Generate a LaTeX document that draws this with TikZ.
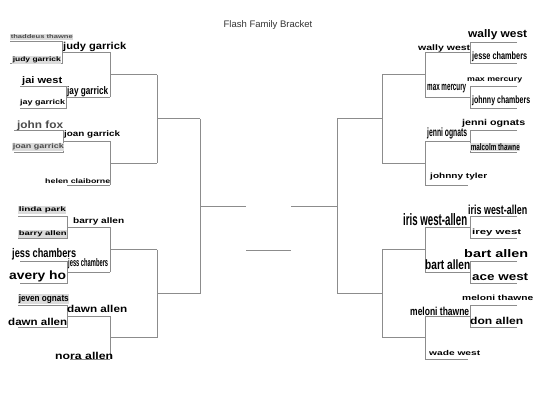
\documentclass[tikz,border=0pt]{standalone}
\usepackage{fontspec}
\setmainfont{Liberation Sans}
\usepackage{graphicx}
\newcommand{\fw}[3]{\resizebox{#1bp}{\height}{\fontsize{#2bp}{#2bp}\selectfont\bfseries #3}}
\newcommand{\bpair}[5]{\draw[br] (#1,#3) -- (#2,#3) -- (#2,#4) -- (#1,#4); \draw[br] (#2,{(#3+#4)/2}) -- (#5,{(#3+#4)/2});}
\newcommand{\bjoin}[4]{\draw[br] (#1,#2) -- (#1,#3); \draw[br] (#1,{(#2+#3)/2}) -- (#4,{(#2+#3)/2});}
\tikzset{
  br/.style={draw=black!45, line width=0.8bp},
  lab/.style={inner sep=0pt, anchor=west},
  hl/.style={fill=black!14, inner sep=0.6pt},
  gt/.style={text=black!70}
}
\begin{document}
\begin{tikzpicture}[x=1bp,y=-1bp]
\fill[white] (0,0) rectangle (540,414);
\useasboundingbox (0,0) rectangle (540,414);
\node[text=black!80] (title) at (268,25) {\fontsize{9.5bp}{10bp}\selectfont Flash Family Bracket};
% left bracket
\bpair{10}{62}{41}{63}{110}
\bpair{20}{66}{86}{108}{110}
\bjoin{110}{52}{97}{157}
\bpair{14}{63}{130}{152}{110}
\draw[br] (67,185) -- (110,185);
\bjoin{110}{141}{185}{157}
\bjoin{157}{74.5}{163}{200}
\bpair{18}{67}{216}{238}{110}
\bpair{20}{67}{261}{283}{110}
\bjoin{110}{227}{272}{157}
\bpair{18}{67}{305}{327}{110}
\draw[br] (70,359) -- (110,359);
\bjoin{110}{316}{359}{157}
\bjoin{157}{249.5}{337.5}{200}
\bjoin{200}{118.75}{293.5}{246}
\draw[br] (246,250) -- (291,250);
% right bracket
\bpair{517}{470}{42}{63}{425}
\bpair{517}{470}{86}{108}{425}
\bjoin{425}{52.5}{97}{382}
\bpair{517}{470}{130}{152}{425}
\draw[br] (425,185) -- (468,185);
\bjoin{425}{141}{185}{382}
\bjoin{382}{74.75}{163}{337}
\bpair{517}{470}{216}{238}{425}
\bpair{517}{470}{261}{283}{425}
\bjoin{425}{227}{272}{382}
\bpair{517}{470}{305}{327}{425}
\draw[br] (425,359) -- (468,359);
\bjoin{425}{316}{359}{382}
\bjoin{382}{249.5}{337.5}{337}
\bjoin{337}{118.9}{293.5}{291}
% left labels
\node[lab,hl,gt] (t1) at (10,37) {\fw{62}{5.5}{thaddeus thawne}};
\node[lab,hl] (t2) at (12,60) {\fw{48}{6.5}{judy garrick}};
\node[lab] (t3) at (63,47) {\fw{63}{10}{judy garrick}};
\node[lab] (t4) at (22,81) {\fw{40}{9.5}{jai west}};
\node[lab] (t5) at (67,92) {\fw{41}{11}{jay garrick}};
\node[lab] (t6) at (20,103) {\fw{45}{7}{jay garrick}};
\node[lab,gt] (t7) at (17,126) {\fw{46}{10.5}{john fox}};
\node[lab] (t8) at (64,134) {\fw{56}{8}{joan garrick}};
\node[lab,hl,gt] (t9) at (12,147) {\fw{51}{7}{joan garrick}};
\node[lab] (t10) at (45,181) {\fw{65}{6.5}{helen claiborne}};
\node[lab,hl] (t11) at (18,210) {\fw{47}{6.5}{linda park}};
\node[lab] (t12) at (73,221) {\fw{51}{8}{barry allen}};
\node[lab,hl] (t13) at (18,234) {\fw{48}{6.5}{barry allen}};
\node[lab] (t14) at (12,254) {\fw{64}{12.5}{jess chambers}};
\node[lab] (t15) at (68,264) {\fw{40}{11}{jess chambers}};
\node[lab] (t16) at (9,276) {\fw{57}{12}{avery ho}};
\node[lab,hl] (t17) at (18,299) {\fw{50}{9.5}{jeven ognats}};
\node[lab] (t18) at (67,309) {\fw{60}{10}{dawn allen}};
\node[lab] (t19) at (8,322) {\fw{59}{10}{dawn allen}};
\node[lab] (t20) at (55,356) {\fw{58}{10}{nora allen}};
% right labels
\node[lab] (r1) at (468,35) {\fw{59}{11}{wally west}};
\node[lab] (r2) at (418,48) {\fw{52}{8}{wally west}};
\node[lab] (r3) at (472,57) {\fw{55}{10.5}{jesse chambers}};
\node[lab] (r4) at (467,80) {\fw{55}{7}{max mercury}};
\node[lab] (r5) at (427,89) {\fw{39}{11.5}{max mercury}};
\node[lab] (r6) at (472,101) {\fw{58}{10.5}{johnny chambers}};
\node[lab] (r7) at (462,123) {\fw{63}{8.5}{jenni ognats}};
\node[lab] (r8) at (427,133) {\fw{40}{12}{jenni ognats}};
\node[lab,hl] (r9) at (470,147) {\fw{49}{9.5}{malcolm thawne}};
\node[lab] (r10) at (430,177) {\fw{57}{7.5}{johnny tyler}};
\node[lab] (r11) at (468,210) {\fw{59}{13}{iris west-allen}};
\node[lab] (r12) at (403,220) {\fw{64}{16.5}{iris west-allen}};
\node[lab] (r13) at (472,233) {\fw{49}{7.5}{irey west}};
\node[lab] (r14) at (464,254) {\fw{64}{11}{bart allen}};
\node[lab] (r15) at (425,265) {\fw{45}{13.5}{bart allen}};
\node[lab] (r16) at (472,277) {\fw{56}{11}{ace west}};
\node[lab] (r17) at (462,298) {\fw{71}{7.5}{meloni thawne}};
\node[lab] (r18) at (410,311) {\fw{59}{11.5}{meloni thawne}};
\node[lab] (r19) at (470,321) {\fw{53}{10}{don allen}};
\node[lab] (r20) at (429,353) {\fw{51}{7}{wade west}};
\end{tikzpicture}
\end{document}
